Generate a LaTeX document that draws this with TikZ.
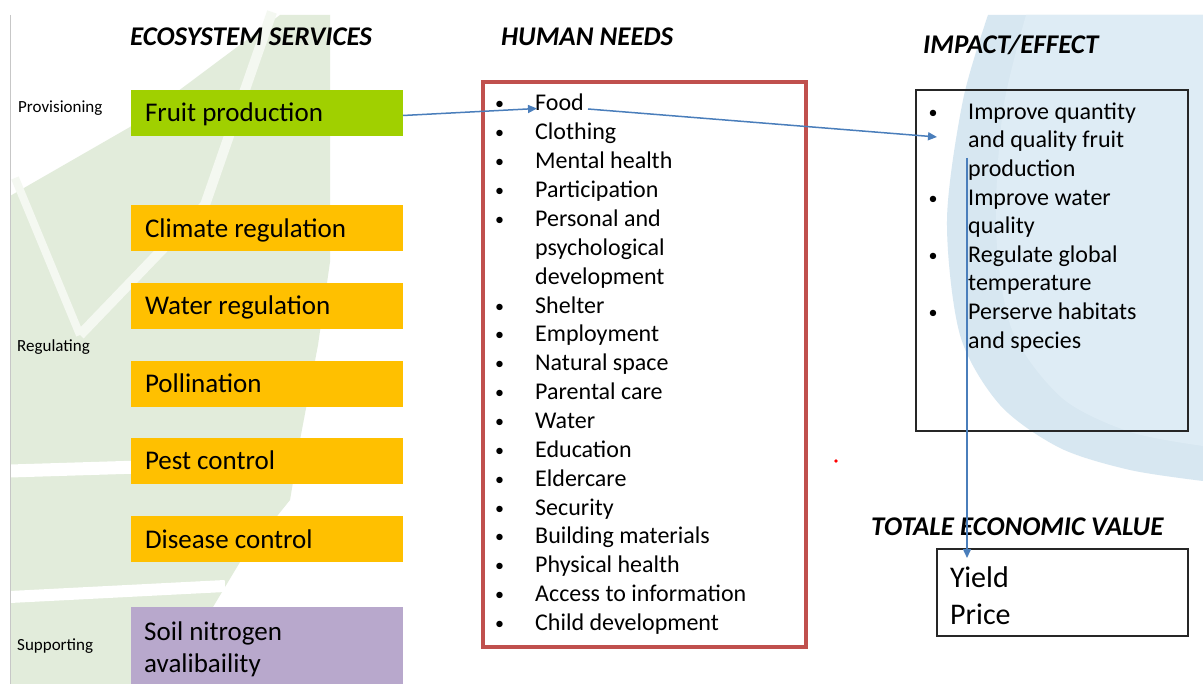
\documentclass[tikz,border=0pt]{standalone}
\usepackage{fontspec}
\setmainfont{Carlito}
\usetikzlibrary{arrows.meta}
\definecolor{fruitgreen}{RGB}{160,208,0}
\definecolor{orangebox}{RGB}{255,192,0}
\definecolor{purplebox}{RGB}{184,168,204}
\definecolor{needred}{RGB}{192,80,77}
\definecolor{arrowblue}{RGB}{74,126,187}
\definecolor{leafgreen}{RGB}{226,236,219}
\definecolor{leafvein}{RGB}{244,248,241}
\definecolor{circleouter}{RGB}{215,231,241}
\definecolor{circleinner}{RGB}{222,236,245}
\tikzset{
  esbox/.style={anchor=west, minimum width=272pt, minimum height=46pt, text width=244pt,
    inner xsep=14pt, inner ysep=0pt, outer sep=0pt, text height=20pt, text depth=2pt,
    font=\fontsize{27}{32}\selectfont,
    execute at begin node={\spaceskip=0pt\xspaceskip=0pt\relax}},
  heading/.style={anchor=base west, inner sep=0pt, font=\fontsize{27}{32}\selectfont\bfseries\itshape},
  sidelabel/.style={anchor=base west, inner sep=0pt, font=\fontsize{17}{20}\selectfont},
  listtxt/.style={anchor=base west, inner sep=0pt, font=\fontsize{24}{29}\selectfont},
  bul/.style={anchor=base, inner sep=0pt, font=\fontsize{18}{22}\selectfont},
  frame/.style={draw, anchor=north west, inner sep=0pt, outer sep=0pt},
  conn/.style={draw=arrowblue, line width=1.5pt, -{Triangle[length=9pt,width=8pt]}}
}
\begin{document}
\begin{tikzpicture}[x=1pt,y=-1pt]
\useasboundingbox (0,0) rectangle (1203,684);
\fill[white] (0,0) rectangle (1203,684);
% background leaf
\fill[leafgreen] (10,196) -- (130,127) -- (280,15) -- (330,15) -- (330,262) -- (318,345)
  -- (300,440) -- (290,500) -- (240,562) -- (213,607) -- (205,684) -- (10,684) -- cycle;
\draw[leafvein, line width=10pt] (272,12) -- (205,205) -- (80,335);
\draw[leafvein, line width=8pt] (15,178) -- (80,335);
\draw[white, line width=13pt] (10,471) -- (140,467);
\draw[white, line width=12pt] (10,597) -- (225,586);
% background circle
\fill[circleouter] plot[smooth] coordinates {(988,15) (963,100) (947,220) (960,335) (1000,405) (1060,448) (1130,470) (1203,481)} -- (1203,15) -- cycle;
\fill[circleinner] plot[smooth] coordinates {(1026,15) (1003,110) (996,230) (1012,330) (1062,398) (1130,432) (1203,446)} -- (1203,15) -- cycle;
\draw[black!22, line width=1pt] (10,15) -- (10,684);

% headings
\node[heading] (hes) at (130,45.7) {ECOSYSTEM SERVICES};
\node[heading] (hhn) at (501,46) {HUMAN NEEDS};
\node[heading] (hie) at (923,53.3) {IMPACT/EFFECT};
\node[heading] (htev) at (871,536) {TOTALE ECONOMIC VALUE};

% side labels
\node[sidelabel] (lprov) at (18,112.5) {Provisioning};
\node[sidelabel] (lreg) at (17,351.5) {Regulating};
\node[sidelabel] (lsup) at (17,650.5) {Supporting};

% ecosystem service boxes
\node[esbox, fill=fruitgreen] (fruit) at (131,113) {Fruit production};
\node[esbox, fill=orangebox] (climate) at (131,228.5) {Climate regulation};
\node[esbox, fill=orangebox] (water) at (131,306) {Water regulation};
\node[esbox, fill=orangebox] (pollination) at (131,384) {Pollination};
\node[esbox, fill=orangebox] (pest) at (131,461) {Pest control};
\node[esbox, fill=orangebox] (disease) at (131,539) {Disease control};
\node[fill=purplebox, anchor=north west, minimum width=272pt, minimum height=82pt, inner sep=0pt, outer sep=0pt] (soil) at (131,607) {};
\node[anchor=base west, inner sep=0pt, font=\fontsize{27}{32}\selectfont] (soiltext) at (144,640)
  {\begin{tabular}[t]{@{}l@{}}Soil nitrogen\\avalibaility\end{tabular}};

% human needs
\node[frame, draw=needred, line width=3.5pt, minimum width=323pt, minimum height=565pt] (needs) at (483,82) {};
\foreach \t/\b [count=\i from 0] in {Food/1, Clothing/1, Mental health/1, Participation/1,
  Personal and/1, psychological/0, development/0, Shelter/1, Employment/1, Natural space/1,
  Parental care/1, Water/1, Education/1, Eldercare/1, Security/1, Building materials/1,
  Physical health/1, Access to information/1, Child development/1}{
  \node[listtxt] (need\i) at (535,{111+28.86*\i}) {\t};
  \ifnum\b=1 \node[bul] (needb\i) at (499.5,{110+28.86*\i}) {•};\fi
}

% impact / effect
\node[frame, draw=black!85, line width=1.1pt, minimum width=272pt, minimum height=341pt] (impact) at (916,90) {};
\foreach \t/\b [count=\i from 0] in {Improve quantity/1, and quality fruit/0, production/0,
  Improve water/1, quality/0, Regulate global/1, temperature/0, Perserve habitats/1, and species/0}{
  \node[listtxt] (imp\i) at (968,{119.3+28.6*\i}) {\t};
  \ifnum\b=1 \node[bul] (impb\i) at (933,{118.3+28.6*\i}) {•};\fi
}

% total economic value
\node[frame, draw=black!85, line width=1.1pt, minimum width=251pt, minimum height=87pt] (tev) at (937,549) {};
\node[anchor=base west, inner sep=0pt, font=\fontsize{30}{37}\selectfont] (yield) at (950,587) {Yield};
\node[anchor=base west, inner sep=0pt, font=\fontsize{30}{37}\selectfont] (price) at (950,624) {Price};

% connectors
\coordinate (foodin) at (537,108.5);
\coordinate (foodout) at (588,109);
\coordinate (impin) at (937,137);
\coordinate (impdown) at (967,158);
\coordinate (tevin) at (967,558);
\draw[conn] ([yshift=-2.5pt]fruit.east) -- (foodin);
\draw[conn] (foodout) -- (impin);
\draw[conn] (impdown) -- (tevin);

\fill[red] (836,461) circle (1.8);
\end{tikzpicture}
\end{document}
